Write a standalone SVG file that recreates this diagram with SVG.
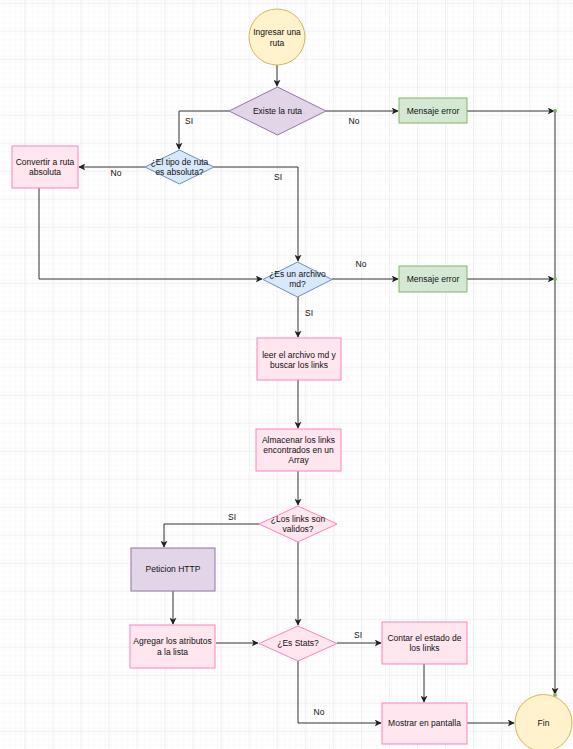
<svg xmlns="http://www.w3.org/2000/svg" width="573" height="749" viewBox="0 0 573 749">
<defs>
<pattern id="minor" x="24.3" y="2.7" width="5.6" height="5.6" patternUnits="userSpaceOnUse">
<path d="M0 0V5.6M0 0H5.6" fill="none" stroke="#f3f3f3" stroke-width="1"/>
</pattern>
<pattern id="major" x="24.3" y="2.7" width="28.05" height="28" patternUnits="userSpaceOnUse">
<rect width="28.05" height="28" fill="url(#minor)"/>
<path d="M0 0V28M0 0H28.05" fill="none" stroke="#e2e2e2" stroke-width="1"/>
</pattern>
<marker id="arr" viewBox="0 0 10 10" refX="9" refY="5" markerWidth="7" markerHeight="7" orient="auto" markerUnits="userSpaceOnUse">
<path d="M0 0L10 5L0 10L2.5 5Z" fill="#222"/>
</marker>
</defs>
<style>
text{font-family:"Liberation Sans",Arial,sans-serif;font-size:8.5px;fill:#111;text-anchor:middle}
.c{fill:none;stroke:#333;stroke-width:1}
.y{fill:#fff2cc;stroke:#d6b656}
.p{fill:#e1d5e7;stroke:#9673a6}
.g{fill:#d5e8d4;stroke:#82b366}
.b{fill:#dae8fc;stroke:#6c8ebf}
.k{fill:#ffe6ef;stroke:#ff80bf}
.lbl{font-size:8.5px}
</style>
<rect width="573" height="749" fill="#fff"/>
<rect width="573" height="749" fill="url(#major)"/>

<g id="connectors">
<path class="c" d="M277 65V86" marker-end="url(#arr)"/>
<path class="c" d="M326 111H398" marker-end="url(#arr)"/>
<path class="c" d="M467 111H554" marker-end="url(#arr)"/>
<path class="c" d="M229 111H179V149" marker-end="url(#arr)"/>
<path class="c" d="M145 167H79" marker-end="url(#arr)"/>
<path class="c" d="M214 167H298V261" marker-end="url(#arr)"/>
<path class="c" d="M39 188V279H262" marker-end="url(#arr)"/>
<path class="c" d="M332 279H398" marker-end="url(#arr)"/>
<path class="c" d="M467 279H554" marker-end="url(#arr)"/>
<path class="c" d="M555 111V694" marker-end="url(#arr)"/>
<path class="c" d="M298 297V337" marker-end="url(#arr)"/>
<path class="c" d="M298 380V428" marker-end="url(#arr)"/>
<path class="c" d="M298 471V505" marker-end="url(#arr)"/>
<path class="c" d="M259 524H164V547" marker-end="url(#arr)"/>
<path class="c" d="M298 542V625" marker-end="url(#arr)"/>
<path class="c" d="M173 591V624" marker-end="url(#arr)"/>
<path class="c" d="M216 643H258" marker-end="url(#arr)"/>
<path class="c" d="M337 643H381" marker-end="url(#arr)"/>
<path class="c" d="M424 664V702" marker-end="url(#arr)"/>
<path class="c" d="M298 661V723H381" marker-end="url(#arr)"/>
<path class="c" d="M467 723H514" marker-end="url(#arr)"/>
<circle cx="555" cy="111" r="2" fill="#82b366"/>
<circle cx="555" cy="279" r="2" fill="#82b366"/>
<circle cx="555" cy="695" r="2" fill="#82b366"/>
<text class="lbl" x="189" y="124">SI</text>
<text class="lbl" x="354" y="124">No</text>
<text class="lbl" x="116" y="176">No</text>
<text class="lbl" x="278" y="180">SI</text>
<text class="lbl" x="361" y="267">No</text>
<text class="lbl" x="309" y="316">SI</text>
<text class="lbl" x="232" y="520">SI</text>
<text class="lbl" x="358" y="638">SI</text>
<text class="lbl" x="319" y="715">No</text>
</g>

<g id="start"><circle class="y" cx="277" cy="37" r="28"/><text x="277" y="35">Ingresar una</text><text x="277" y="46">ruta</text></g>
<g id="existe"><path class="p" d="M277.5 87L326 111L277.5 135L229 111Z"/><text x="277.5" y="114">Existe la ruta</text></g>
<g id="error1"><rect class="g" x="399" y="98" width="68" height="25"/><text x="433" y="114">Mensaje error</text></g>
<g id="tipo"><path class="b" d="M179.5 150L214 167L179.5 184L145 167Z"/><text x="179.5" y="165">¿El tipo de ruta</text><text x="179.5" y="175">es absoluta?</text></g>
<g id="convertir"><rect class="k" x="12" y="146" width="66" height="42"/><text x="45" y="165">Convertir a ruta</text><text x="45" y="175">absoluta</text></g>
<g id="esmd"><path class="b" d="M297.5 262L332 279.5L297.5 297L263 279.5Z"/><text x="297.5" y="277">¿Es un archivo</text><text x="297.5" y="287">md?</text></g>
<g id="error2"><rect class="g" x="399" y="266" width="68" height="26"/><text x="433" y="282">Mensaje error</text></g>
<g id="leer"><rect class="k" x="257" y="338" width="84" height="42"/><text x="299" y="358">leer el archivo md y</text><text x="299" y="368">buscar los links</text></g>
<g id="almacenar"><rect class="k" x="256" y="429" width="85" height="42"/><text x="298.5" y="443">Almacenar los links</text><text x="298.5" y="453">encontrados en un</text><text x="298.5" y="463">Array</text></g>
<g id="validos"><path class="k" d="M298 506L337 524L298 542L259 524Z"/><text x="298" y="522">¿Los links son</text><text x="298" y="532">validos?</text></g>
<g id="peticion"><rect class="p" x="131" y="548" width="84" height="43"/><text x="173" y="572">Peticion HTTP</text></g>
<g id="agregar"><rect class="k" x="130" y="625" width="85" height="43"/><text x="172.5" y="644">Agregar los atributos</text><text x="172.5" y="655">a la lista</text></g>
<g id="stats"><path class="k" d="M298 626L337 643.5L298 661L259 643.5Z"/><text x="298" y="646">¿Es Stats?</text></g>
<g id="contar"><rect class="k" x="382" y="622" width="85" height="42"/><text x="424.5" y="641">Contar el estado de</text><text x="424.5" y="651">los links</text></g>
<g id="mostrar"><rect class="k" x="382" y="703" width="85" height="41"/><text x="424.5" y="726">Mostrar en pantalla</text></g>
<g id="fin"><circle class="y" cx="543.5" cy="723" r="28.5"/><text x="543.5" y="726">Fin</text></g>
</svg>
